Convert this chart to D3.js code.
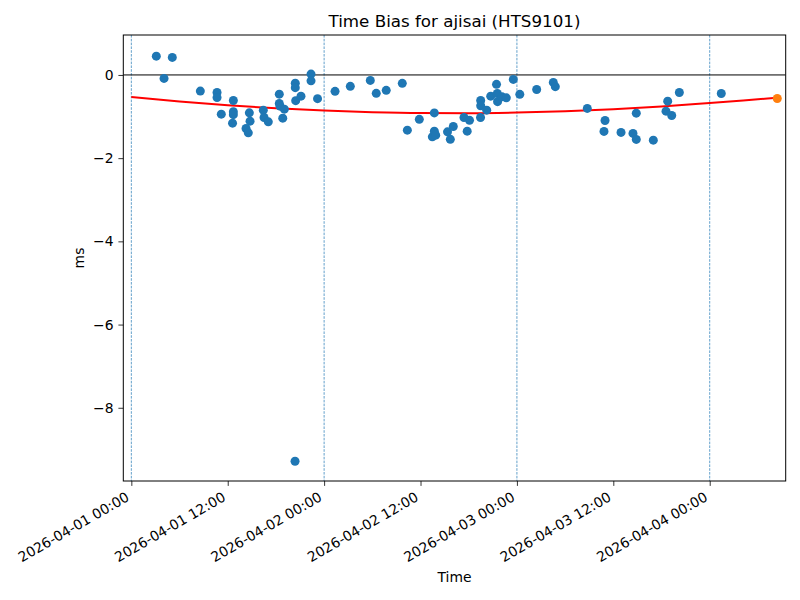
<!DOCTYPE html>
<html>
<head>
<meta charset="utf-8">
<script src="https://cdn.jsdelivr.net/npm/d3@7"></script>
<style>
  html, body { margin: 0; padding: 0; background: #fff; }
  svg { display: block; font-family: "DejaVu Sans", sans-serif; }
  svg text { font-family: "DejaVu Sans", sans-serif; }
</style>
</head>
<body>
<svg id="chart" width="800" height="600"></svg>
<script>
// ---- Data ----
const startTime = "2026-04-01T00:00:00Z";
// observation times, hours since start
const obsHours = [3.11, 5.10, 4.07, 8.59, 10.67, 10.67, 11.20, 12.70, 12.70, 12.70,
  12.60, 14.69, 14.78, 14.28, 14.56, 16.43, 16.52, 17.05, 18.42, 18.42,
  18.51, 19.05, 18.85, 20.41, 20.41, 20.46, 20.38, 21.12, 22.37, 22.37,
  23.18, 25.36, 27.26, 29.75, 30.49, 31.73, 33.73, 34.36, 35.85, 37.72,
  37.72, 37.47, 37.89, 39.36, 39.71, 40.08, 41.41, 42.10, 41.81, 43.47,
  43.49, 43.49, 44.24, 44.74, 45.46, 45.56, 45.59, 46.14, 46.68, 47.55,
  48.36, 50.46, 52.53, 52.78, 56.76, 58.97, 58.84, 60.96, 62.45, 62.86,
  62.86, 64.98, 66.77, 66.56, 67.27, 68.22, 73.44];
// time bias, ms
const biasMs = [0.452, 0.421, -0.084, -0.389, -0.420, -0.541, -0.942, -0.613, -0.882, -0.954,
  -1.159, -0.911, -1.111, -1.286, -1.392, -0.846, -1.022, -1.127, -0.462, -0.685,
  -0.750, -0.822, -1.038, -0.197, -0.305, -0.618, -9.284, -0.510, 0.020, -0.142,
  -0.570, -0.394, -0.274, -0.132, -0.442, -0.370, -0.202, -1.327, -1.067, -0.913,
  -1.351, -1.488, -1.447, -1.368, -1.548, -1.238, -1.022, -1.091, -1.351, -1.022,
  -0.613, -0.740, -0.846, -0.510, -0.226, -0.445, -0.642, -0.526, -0.550, -0.108,
  -0.466, -0.349, -0.180, -0.281, -0.805, -1.094, -1.358, -1.382, -1.406, -1.550,
  -0.918, -1.567, -0.630, -0.870, -0.974, -0.421, -0.445];
// fitted trend (red line)
const fitHours = [0, 6, 12, 18, 24, 30, 36, 42, 48, 54, 60, 66, 72, 78, 80.41];
const fitMs = [-0.530, -0.638, -0.728, -0.802, -0.857, -0.895, -0.916, -0.919, -0.905, -0.873,
  -0.824, -0.757, -0.672, -0.585, -0.550];
// predicted point (orange)
const predHours = [80.41];
const predMs = [-0.565];
// day boundary markers (hours)
const dayLineHours = [0, 24, 48, 72];
// axis settings
const xDomainHours = [-1.0, 81.46];
const yDomain = [-9.76, 0.96];
const yTicks = [0, -2, -4, -6, -8];
const titleText = "Time Bias for ajisai (HTS9101)";
const xLabelText = "Time";
const yLabelText = "ms";

// ---- Drawing ----
const FONT = "DejaVu Sans";
const t0 = new Date(startTime).getTime();
const toDate = h => new Date(t0 + h * 3600 * 1000);

const m = { left: 123.3, right: 785.7, top: 35, bottom: 481 };
const svg = d3.select("#chart");

const x = d3.scaleUtc().domain(xDomainHours.map(toDate)).range([m.left, m.right]);
const y = d3.scaleLinear().domain(yDomain).range([m.bottom, m.top]);

const blue = "#1f77b4", orange = "#ff7f0e";

const plot = svg.append("g");
plot.append("defs").append("clipPath").attr("id", "clip")
  .append("rect").attr("x", m.left).attr("y", m.top)
  .attr("width", m.right - m.left).attr("height", m.bottom - m.top);
const inner = plot.append("g").attr("clip-path", "url(#clip)");

// day boundary lines
inner.selectAll("line.day").data(dayLineHours).enter().append("line")
  .attr("class", "day")
  .attr("x1", d => x(toDate(d))).attr("x2", d => x(toDate(d)))
  .attr("y1", m.top).attr("y2", m.bottom)
  .attr("stroke", blue).attr("stroke-width", 0.7)
  .attr("stroke-dasharray", "2.6,1.2");

// zero line
inner.append("line")
  .attr("x1", m.left).attr("x2", m.right)
  .attr("y1", y(0)).attr("y2", y(0))
  .attr("stroke", "#000").attr("stroke-width", 1);

// fit line
const fitData = fitHours.map((h, i) => [h, fitMs[i]]);
inner.append("path").datum(fitData)
  .attr("fill", "none").attr("stroke", "#ff0000").attr("stroke-width", 2)
  .attr("d", d3.line().x(d => x(toDate(d[0]))).y(d => y(d[1])).curve(d3.curveMonotoneX));

// scatter
const pts = obsHours.map((h, i) => [h, biasMs[i]]);
inner.selectAll("circle.obs").data(pts).enter().append("circle")
  .attr("class", "obs")
  .attr("cx", d => x(toDate(d[0]))).attr("cy", d => y(d[1]))
  .attr("r", 4.5).attr("fill", blue);

const pred = predHours.map((h, i) => [h, predMs[i]]);
inner.selectAll("circle.pred").data(pred).enter().append("circle")
  .attr("class", "pred")
  .attr("cx", d => x(toDate(d[0]))).attr("cy", d => y(d[1]))
  .attr("r", 4.5).attr("fill", orange);

// axes
const fmt = d3.utcFormat("%Y-%m-%d %H:%M");
const xTickDates = d3.utcHour.every(12).range(toDate(0), toDate(xDomainHours[1]));
const xAxis = d3.axisBottom(x).tickValues(xTickDates).tickFormat(fmt)
  .tickSizeInner(4.9).tickSizeOuter(0).tickPadding(4);
const gx = svg.append("g").attr("transform", `translate(0,${m.bottom})`).call(xAxis)
  .attr("font-family", FONT).attr("font-size", 13.9);
gx.select(".domain").remove();
gx.selectAll(".tick line").attr("stroke", "#000").attr("stroke-width", 0.8);
gx.selectAll(".tick text")
  .attr("font-family", FONT)
  .attr("font-size", 13.9).attr("fill", "#000")
  .attr("text-anchor", "end")
  .attr("x", 0).attr("y", 0).attr("dy", 0)
  .attr("transform", "translate(-1.6,18.9) rotate(-30)");

const yAxis = d3.axisLeft(y).tickValues(yTicks).tickFormat(d => d === 0 ? "0" : "\u2212" + Math.abs(d))
  .tickSizeInner(4.9).tickSizeOuter(0).tickPadding(4.9);
const gy = svg.append("g").attr("transform", `translate(${m.left},0)`).call(yAxis)
  .attr("font-family", FONT).attr("font-size", 13.9);
gy.select(".domain").remove();
gy.selectAll(".tick line").attr("stroke", "#000").attr("stroke-width", 0.8);
gy.selectAll(".tick text").attr("font-family", FONT).attr("font-size", 13.9).attr("fill", "#000");

// frame
svg.append("rect").attr("x", m.left).attr("y", m.top)
  .attr("width", m.right - m.left).attr("height", m.bottom - m.top)
  .attr("fill", "none").attr("stroke", "#000").attr("stroke-width", 1);

// labels
svg.append("text").attr("x", (m.left + m.right) / 2).attr("y", 27)
  .attr("font-family", FONT)
  .attr("text-anchor", "middle").attr("font-size", 16.7).attr("fill", "#000")
  .text(titleText);
svg.append("text").attr("x", (m.left + m.right) / 2).attr("y", 582)
  .attr("font-family", FONT)
  .attr("text-anchor", "middle").attr("font-size", 13.9).attr("fill", "#000")
  .text(xLabelText);
svg.append("text").attr("transform", `translate(84,${(m.top + m.bottom) / 2}) rotate(-90)`)
  .attr("font-family", FONT)
  .attr("text-anchor", "middle").attr("font-size", 13.9).attr("fill", "#000")
  .text(yLabelText);
</script>
</body>
</html>
